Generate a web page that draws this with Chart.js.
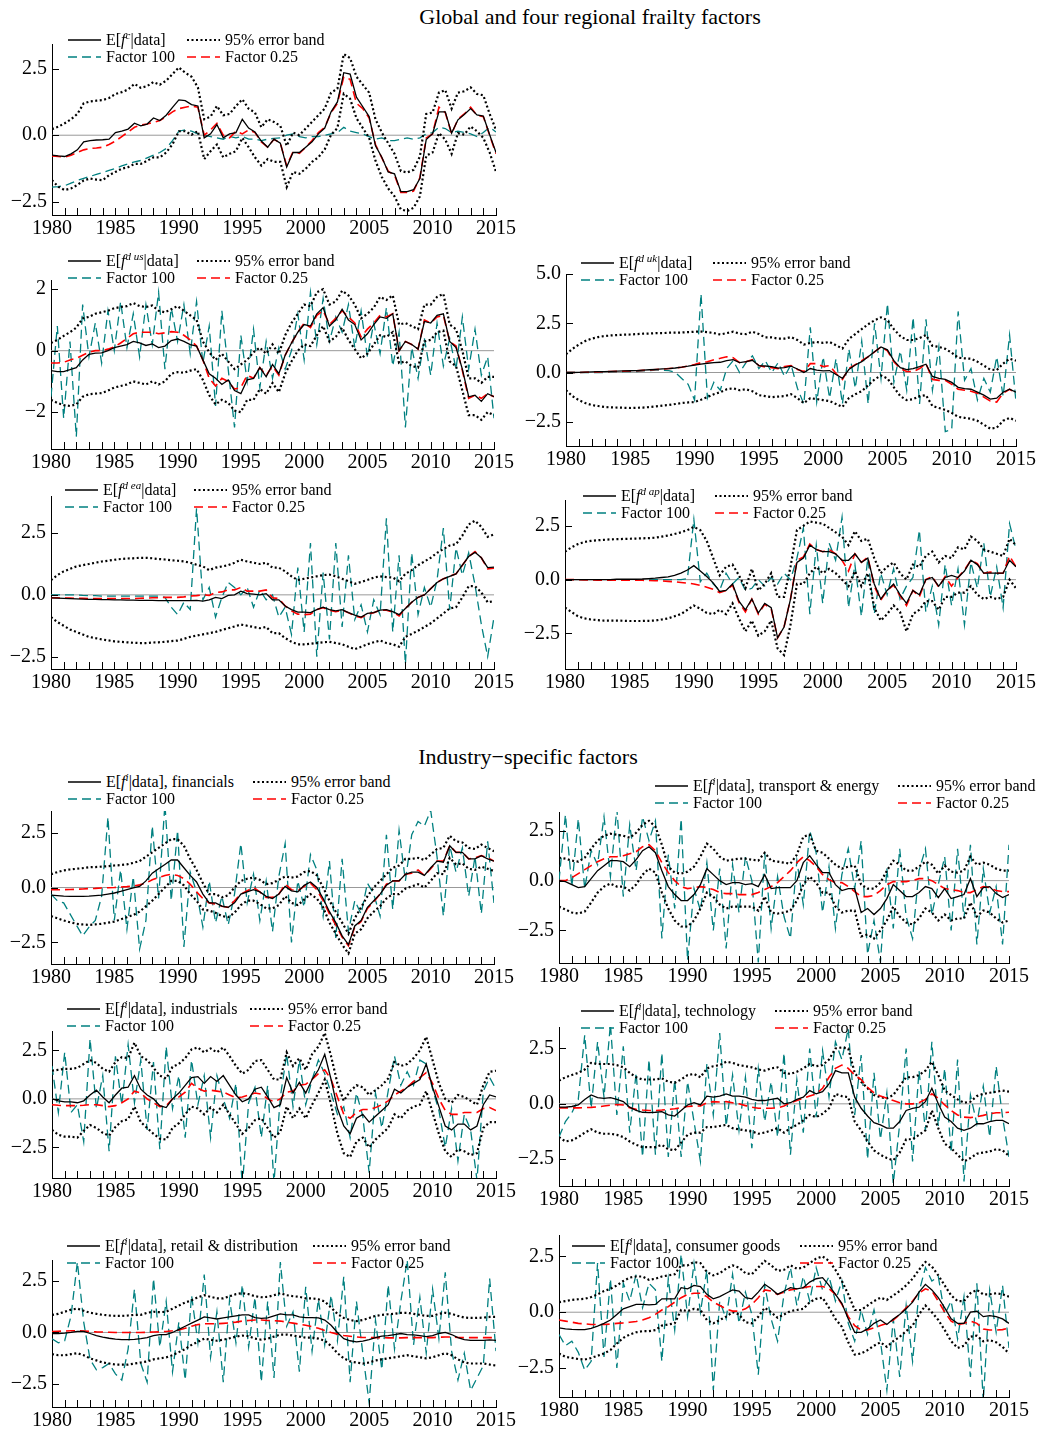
<!DOCTYPE html>
<html>
<head>
<meta charset="utf-8">
<script src="https://cdn.jsdelivr.net/npm/chart.js@4.4.1/dist/chart.umd.min.js"></script>
<style>
  body { margin: 0; background: #fff; }
  #page { position: relative; width: 1043px; height: 1432px; overflow: hidden; font-family: 'Liberation Serif', 'Times New Roman', serif; color: #000; }
  canvas { position: absolute; }
  .title { position: absolute; font-size: 22px; line-height: 26px; white-space: nowrap; transform: translateX(-50%); }
  .leg { position: absolute; font-size: 16px; line-height: 18px; white-space: nowrap; }
  .leg sup { font-size: 11px; line-height: 0; vertical-align: 6px; }
</style>
</head>
<body>
<div id="page">
  <div class="title" style="left:590px; top:4px;">Global and four regional frailty factors</div>
  <div class="title" style="left:528px; top:744px;">Industry−specific factors</div>
</div>
<script>
// 半年ごとの時点
const HALF = [1980,1980.5,1981,1981.5,1982,1982.5,1983,1983.5,1984,1984.5,
  1985,1985.5,1986,1986.5,1987,1987.5,1988,1988.5,1989,1989.5,
  1990,1990.5,1991,1991.5,1992,1992.5,1993,1993.5,1994,1994.5,
  1995,1995.5,1996,1996.5,1997,1997.5,1998,1998.5,1999,1999.5,
  2000,2000.5,2001,2001.5,2002,2002.5,2003,2003.5,2004,2004.5,
  2005,2005.5,2006,2006.5,2007,2007.5,2008,2008.5,2009,2009.5,
  2010,2010.5,2011,2011.5,2012,2012.5,2013,2013.5,2014,2014.5,
  2015];
const X_TICKS = [1980, 1985, 1990, 1995, 2000, 2005, 2010, 2015];
const YEARS = HALF.filter(v => v % 1 === 0);

// global
const glbMean = [-0.75,-0.78,-0.8,-0.7,-0.55,-0.25,-0.2,-0.18,-0.17,-0.15,
  0.1,0.15,0.23,0.45,0.35,0.42,0.65,0.55,0.75,1.05,
  1.33,1.3,1.15,1.1,-0.1,0.05,0.4,-0.1,0.05,0.1,
  0.6,0.27,0.12,-0.22,-0.45,-0.15,-0.3,-1.2,-0.65,-0.65,
  -0.45,-0.25,0.05,0.27,0.88,1.25,2.35,2.3,1.43,1.07,
  0.7,-0.4,-0.83,-1.38,-1.45,-2.12,-2.12,-2.05,-1.63,-0.16,
  0.06,0.88,0.88,0.08,0.58,0.78,1.0,0.76,0.72,0.02,
  -0.65];
const glbF025 = [-0.78,-0.8,-0.82,-0.75,-0.65,-0.55,-0.5,-0.48,-0.45,-0.35,
  -0.22,-0.05,0.12,0.3,0.38,0.42,0.48,0.55,0.7,0.88,
  1.0,1.05,1.1,1.05,0.0,0.2,0.45,0.0,-0.1,0.15,
  0.05,0.2,0.1,-0.25,-0.45,-0.15,-0.3,-1.15,-0.62,-0.68,
  -0.45,-0.2,0.1,0.3,0.85,1.2,2.2,2.1,1.2,1.0,
  0.65,-0.35,-0.85,-1.35,-1.5,-2.15,-2.15,-2.1,-1.6,-0.1,
  0.05,1.05,0.85,0.05,0.6,0.8,1.05,0.75,0.7,0.0,
  -0.7];
const glbUp = [0.23,0.32,0.45,0.6,0.8,1.2,1.27,1.3,1.32,1.4,
  1.55,1.62,1.72,1.93,1.78,1.85,2.0,1.9,2.05,2.3,
  2.55,2.35,2.2,1.8,0.6,0.7,1.1,0.75,0.8,1.1,
  1.35,1.0,0.85,0.3,0.6,0.5,0.35,-0.4,0.1,0.0,
  0.25,0.5,0.75,1.0,1.6,1.75,3.05,2.9,2.2,1.9,
  1.6,0.6,0.1,-0.3,-0.7,-1.35,-1.4,-1.3,-0.8,0.8,
  0.85,1.6,1.7,1.0,1.6,1.65,1.8,1.55,1.5,0.8,
  0.2];
const glbLo = [-1.69,-1.94,-2.06,-2.0,-1.87,-1.7,-1.63,-1.67,-1.69,-1.5,
  -1.38,-1.26,-1.2,-1.08,-1.08,-0.96,-0.83,-0.83,-0.65,-0.34,
  0.15,0.15,0.02,0.15,-0.9,-0.6,-0.35,-0.83,-0.7,-0.6,
  -0.1,-0.45,-0.83,-1.14,-0.9,-1.0,-1.0,-1.95,-1.38,-1.45,
  -1.26,-1.0,-0.83,-0.53,0.02,0.27,1.56,1.37,0.64,0.27,
  -0.1,-0.96,-1.57,-2.0,-2.3,-2.79,-2.85,-2.73,-2.3,-0.77,
  -0.65,0.08,-0.16,-0.7,0.08,0.02,0.33,0.15,-0.1,-0.65,
  -1.38];
const glbF100 = [-1.95,-1.93,-1.9,-1.8,-1.7,-1.62,-1.55,-1.47,-1.4,-1.32,
  -1.25,-1.15,-1.08,-1.0,-0.95,-0.85,-0.75,-0.65,-0.5,-0.2,
  0.15,0.2,0.15,0.05,0.0,-0.05,-0.1,-0.15,-0.05,-0.1,
  -0.05,-0.15,-0.15,-0.2,-0.15,-0.12,-0.1,0.0,0.05,-0.05,
  -0.1,-0.05,-0.05,0.0,0.05,0.1,0.3,0.15,0.1,0.05,
  -0.05,-0.15,-0.1,-0.2,-0.2,-0.15,-0.1,-0.15,-0.1,0.05,
  0.1,0.3,0.25,0.1,0.15,0.1,0.05,-0.05,0.1,0.3,
  0.12];

// us
const usMean = [-0.65,-0.68,-0.68,-0.62,-0.55,-0.3,-0.12,-0.08,-0.07,0.0,
  0.1,0.15,0.2,0.3,0.25,0.17,0.22,0.1,0.15,0.33,
  0.38,0.3,0.2,0.15,-0.3,-0.75,-0.9,-1.1,-0.95,-1.3,
  -1.4,-0.95,-0.9,-0.55,-0.85,-0.45,-0.75,-0.15,0.25,0.6,
  0.85,0.8,1.2,1.4,0.8,1.0,1.35,1.0,0.85,0.35,
  0.55,0.85,1.1,1.05,1.2,0.0,0.3,0.2,0.05,0.95,
  0.9,1.15,1.2,0.3,0.1,-0.6,-1.5,-1.45,-1.65,-1.4,
  -1.5];
const usF025 = [-0.4,-0.4,-0.38,-0.3,-0.25,-0.15,-0.05,0.0,0.0,0.05,
  0.12,0.25,0.4,0.55,0.6,0.6,0.6,0.55,0.58,0.62,
  0.6,0.5,0.35,0.15,-0.3,-0.9,-1.15,-0.9,-1.0,-1.25,
  -1.2,-0.8,-0.9,-0.55,-0.8,-0.5,-0.8,-0.15,0.25,0.6,
  0.9,0.75,1.15,1.3,0.85,1.05,1.3,1.1,0.9,0.45,
  0.7,0.9,1.15,1.1,1.2,0.0,0.3,0.2,0.05,1.0,
  0.9,1.1,1.15,0.3,0.15,-0.65,-1.55,-1.45,-1.55,-1.4,
  -1.5];
const usUp = [0.25,0.35,0.48,0.6,0.75,1.05,1.1,1.2,1.25,1.3,
  1.38,1.42,1.45,1.55,1.45,1.42,1.47,1.3,1.25,1.35,
  1.45,1.3,1.15,1.0,0.3,-0.05,-0.3,-0.1,-0.35,-0.6,
  -0.45,-0.3,-0.05,0.1,-0.1,0.2,-0.1,0.5,0.9,1.2,
  1.5,1.45,1.9,2.0,1.5,1.6,1.95,1.8,1.5,1.05,
  1.2,1.4,1.75,1.65,1.8,0.85,0.9,0.8,0.7,1.5,
  1.5,1.75,1.85,0.85,0.7,0.0,-0.9,-0.9,-1.05,-0.85,
  -0.85];
const usLo = [-1.6,-1.7,-1.77,-1.8,-1.75,-1.5,-1.42,-1.4,-1.38,-1.3,
  -1.2,-1.15,-1.1,-1.0,-1.05,-1.1,-1.0,-1.1,-1.0,-0.75,
  -0.7,-0.72,-0.65,-0.6,-0.95,-1.45,-1.75,-1.6,-1.7,-1.95,
  -2.0,-1.6,-1.6,-1.25,-1.4,-1.05,-1.35,-0.75,-0.35,0.0,
  0.2,0.15,0.5,0.8,0.3,0.45,0.75,0.35,0.05,-0.25,
  -0.1,0.2,0.5,0.45,0.6,-0.4,-0.35,-0.5,-0.55,0.3,
  0.35,0.6,0.65,-0.35,-0.5,-1.3,-2.1,-2.1,-2.25,-2.0,
  -2.1];
const usF100 = [-1.5,0.8,-2.2,0.3,-2.8,1.5,-0.2,0.9,-0.4,1.3,
  0.0,1.6,0.1,1.2,-0.2,1.5,0.2,1.9,-0.6,1.4,
  0.3,1.5,-0.1,1.6,-0.4,0.8,-1.8,1.3,-0.6,-2.5,
  0.5,-1.0,0.7,-1.2,0.3,-0.9,0.1,-0.6,0.0,1.2,
  -0.3,1.9,0.2,1.7,0.3,1.1,0.6,1.5,0.1,1.3,
  -0.2,0.9,-0.1,1.4,-0.5,0.6,-2.5,0.1,-0.9,0.4,
  -0.8,0.9,-0.5,0.4,-0.6,1.1,-0.6,0.7,-0.8,-0.2,
  -2.2];

// uk
const ukMean = [0.0,0.0,0.01,0.02,0.03,0.04,0.05,0.06,0.07,0.08,
  0.09,0.1,0.12,0.14,0.16,0.18,0.2,0.23,0.27,0.32,
  0.38,0.43,0.47,0.5,0.52,0.6,0.65,0.5,0.55,0.62,
  0.35,0.33,0.3,0.22,0.25,0.32,0.18,0.0,0.2,0.12,
  0.08,0.1,-0.1,-0.3,0.15,0.38,0.55,0.8,1.05,1.3,
  1.15,0.6,0.25,0.15,0.2,0.3,0.42,-0.2,-0.3,-0.35,
  -0.5,-0.75,-0.82,-0.85,-1.0,-1.15,-1.35,-1.3,-1.0,-0.85,
  -1.0];
const ukF025 = [0.0,0.0,0.0,0.01,0.02,0.03,0.04,0.05,0.06,0.07,
  0.08,0.09,0.11,0.13,0.15,0.17,0.2,0.23,0.27,0.33,
  0.4,0.5,0.55,0.65,0.72,0.8,0.75,0.5,0.55,0.65,
  0.35,0.28,0.25,0.2,0.3,0.35,0.15,0.05,0.45,0.45,
  0.3,0.35,-0.05,-0.35,0.2,0.4,0.6,0.8,1.05,1.3,
  1.1,0.55,0.2,0.05,0.05,0.2,0.45,-0.35,-0.4,-0.4,
  -0.6,-0.85,-0.9,-0.95,-1.05,-1.25,-1.45,-1.5,-1.05,-0.85,
  -1.05];
const ukUp = [0.93,1.2,1.42,1.6,1.72,1.8,1.85,1.88,1.9,1.92,
  1.93,1.95,1.97,1.98,2.0,2.0,2.02,2.02,2.03,2.05,
  2.07,2.08,2.05,2.0,1.93,2.0,2.07,1.97,1.95,2.07,
  1.95,1.78,1.78,1.72,1.72,1.8,1.65,1.42,1.5,1.55,
  1.5,1.55,1.38,1.22,1.7,1.95,2.2,2.45,2.65,2.8,
  2.65,2.2,1.85,1.65,1.65,1.75,1.9,1.35,1.3,1.2,
  1.0,0.75,0.72,0.7,0.55,0.35,0.15,0.12,0.45,0.7,
  0.6];
const ukLo = [-0.9,-1.2,-1.4,-1.55,-1.65,-1.7,-1.75,-1.77,-1.78,-1.79,
  -1.8,-1.79,-1.78,-1.75,-1.72,-1.68,-1.65,-1.6,-1.55,-1.52,
  -1.5,-1.38,-1.25,-1.1,-1.0,-0.85,-0.8,-0.9,-0.85,-0.95,
  -1.15,-1.2,-1.25,-1.22,-1.2,-1.1,-1.3,-1.55,-1.3,-1.35,
  -1.4,-1.45,-1.6,-1.75,-1.3,-1.1,-0.95,-0.65,-0.35,-0.15,
  -0.3,-0.75,-1.2,-1.4,-1.35,-1.2,-1.15,-1.7,-1.8,-1.9,
  -2.05,-2.25,-2.3,-2.35,-2.45,-2.65,-2.85,-2.8,-2.45,-2.3,
  -2.45];
const ukF100 = [0.0,0.0,0.0,0.0,0.0,0.0,0.0,0.02,0.03,0.04,
  0.05,0.05,0.08,0.1,0.12,0.12,0.1,0.0,-0.3,-0.6,
  -1.4,4.0,-1.3,-0.5,-0.9,0.2,0.6,0.0,0.5,0.85,
  0.2,0.6,0.0,0.5,-0.2,0.4,-0.8,-1.6,2.3,-1.5,
  0.8,-1.3,0.7,-1.6,1.2,-0.8,1.6,-1.6,2.5,-0.3,
  3.5,-0.5,1.1,-0.9,2.8,-1.6,2.7,-0.9,1.3,-3.0,
  -2.9,3.1,-0.4,0.2,-1.4,-0.3,-1.0,0.8,-1.2,1.9,
  -1.5];

// euro area
const eaMean = [-0.12,-0.13,-0.14,-0.15,-0.16,-0.17,-0.18,-0.18,-0.19,-0.19,
  -0.2,-0.2,-0.21,-0.21,-0.22,-0.22,-0.22,-0.23,-0.23,-0.23,
  -0.23,-0.23,-0.23,-0.22,-0.25,-0.2,-0.1,-0.15,-0.02,0.0,
  0.15,0.05,0.03,0.0,0.05,-0.2,-0.2,-0.45,-0.6,-0.7,
  -0.7,-0.72,-0.6,-0.5,-0.6,-0.65,-0.6,-0.72,-0.82,-0.9,
  -0.75,-0.72,-0.62,-0.6,-0.68,-0.8,-0.55,-0.3,-0.1,0.0,
  0.25,0.5,0.65,0.75,0.85,1.2,1.55,1.72,1.5,1.1,
  1.12];
const eaF025 = [-0.12,-0.12,-0.13,-0.13,-0.14,-0.14,-0.15,-0.15,-0.15,-0.15,
  -0.15,-0.15,-0.15,-0.15,-0.14,-0.13,-0.12,-0.12,-0.1,-0.1,
  -0.1,-0.08,-0.05,-0.03,0.0,-0.02,0.1,0.12,0.2,0.2,
  0.3,0.15,0.15,0.15,0.2,-0.12,-0.15,-0.45,-0.65,-0.78,
  -0.8,-0.78,-0.6,-0.52,-0.62,-0.68,-0.62,-0.72,-0.85,-0.92,
  -0.78,-0.72,-0.62,-0.62,-0.7,-0.85,-0.55,-0.3,-0.1,0.0,
  0.25,0.5,0.65,0.75,0.85,1.2,1.55,1.75,1.5,1.05,
  1.08];
const eaUp = [0.6,0.8,0.95,1.05,1.15,1.2,1.25,1.3,1.35,1.38,
  1.42,1.45,1.47,1.48,1.5,1.5,1.48,1.45,1.43,1.4,
  1.38,1.35,1.3,1.22,1.15,1.0,1.1,1.15,1.2,1.3,
  1.42,1.35,1.3,1.25,1.3,1.1,1.1,0.95,0.75,0.6,
  0.65,0.7,0.75,0.8,0.82,0.75,0.65,0.55,0.45,0.52,
  0.6,0.7,0.75,0.72,0.7,0.55,0.85,1.0,1.2,1.35,
  1.5,1.7,1.85,2.0,2.05,2.4,2.85,3.0,2.75,2.35,
  2.45];
const eaLo = [-0.9,-1.1,-1.25,-1.4,-1.5,-1.6,-1.7,-1.75,-1.8,-1.84,
  -1.88,-1.9,-1.92,-1.94,-1.95,-1.95,-1.93,-1.92,-1.9,-1.87,
  -1.85,-1.78,-1.7,-1.65,-1.6,-1.55,-1.5,-1.42,-1.35,-1.28,
  -1.2,-1.25,-1.3,-1.35,-1.3,-1.55,-1.55,-1.75,-1.9,-2.0,
  -2.0,-1.98,-1.95,-1.92,-1.9,-1.95,-2.0,-2.1,-2.2,-2.1,
  -2.0,-1.92,-1.85,-1.95,-2.0,-2.1,-1.7,-1.58,-1.45,-1.3,
  -1.15,-0.95,-0.75,-0.55,-0.5,-0.1,0.35,0.35,0.1,-0.3,
  -0.25];
const eaF100 = [0.0,0.0,0.0,0.0,0.0,-0.02,-0.03,-0.03,-0.05,-0.05,
  -0.05,-0.05,-0.05,-0.05,-0.05,-0.05,-0.05,-0.05,-0.1,-0.5,
  -0.8,-0.3,-0.6,3.5,-0.2,0.3,-0.9,-0.1,0.5,0.3,
  0.0,0.3,-0.5,0.2,-0.2,0.0,-0.9,-0.5,-1.6,1.1,
  -1.5,2.1,-2.5,0.9,-1.8,2.1,-1.3,1.6,-1.0,-0.4,
  -1.5,-0.2,-0.8,3.1,-1.5,1.6,-2.8,1.7,-0.8,0.3,
  -0.5,0.6,2.7,-0.6,1.9,0.8,1.7,0.4,-1.2,-2.5,
  -0.9];

// asia pacific
const apMean = [0.0,0.0,0.0,0.0,0.0,0.0,0.0,0.0,0.02,0.02,
  0.02,0.02,0.03,0.05,0.07,0.1,0.13,0.2,0.3,0.45,
  0.65,0.4,0.15,-0.15,-0.55,-0.5,-0.2,-1.0,-1.4,-0.9,
  -1.55,-1.1,-1.3,-2.7,-2.2,-0.9,0.8,1.0,1.6,1.4,
  1.3,1.3,1.2,0.9,0.9,1.2,0.8,1.0,-0.2,-0.9,
  -0.5,-0.2,-0.7,-1.1,-0.5,-0.7,0.0,0.1,-0.3,0.1,
  0.2,0.1,0.4,0.9,0.7,0.3,0.3,0.3,0.3,0.9,
  0.6];
const apF025 = [0.0,0.0,0.0,-0.01,-0.01,-0.02,-0.02,-0.02,-0.02,-0.02,
  -0.02,-0.03,-0.03,-0.04,-0.05,-0.06,-0.08,-0.1,-0.13,-0.16,
  -0.2,-0.27,-0.35,-0.45,-0.6,-0.5,-0.25,-1.05,-1.5,-0.9,
  -1.6,-1.15,-1.35,-2.7,-2.2,-0.9,0.9,1.05,1.65,1.4,
  1.3,1.4,1.2,0.9,0.4,1.2,0.8,1.05,-0.3,-0.95,
  -0.5,-0.25,-0.75,-1.2,-0.5,-0.8,0.0,0.15,-0.35,0.15,
  -0.3,0.1,0.45,0.9,0.75,0.3,0.35,0.3,0.3,1.1,
  0.6];
const apUp = [1.3,1.5,1.65,1.75,1.8,1.83,1.85,1.87,1.88,1.89,
  1.9,1.91,1.92,1.93,1.95,2.0,2.05,2.12,2.2,2.3,
  2.45,2.3,1.8,1.0,0.2,0.6,0.7,0.2,-0.4,0.5,
  -0.5,-0.2,0.3,-0.8,-0.8,0.6,2.3,2.5,2.7,2.65,
  2.6,2.4,2.2,2.0,1.6,2.25,1.8,1.9,1.0,0.3,
  0.6,0.8,0.3,0.0,0.7,0.6,1.1,1.3,0.8,1.1,
  1.0,1.5,1.4,2.0,1.8,1.4,1.3,1.2,1.1,1.9,
  1.6];
const apLo = [-1.3,-1.5,-1.7,-1.8,-1.85,-1.88,-1.9,-1.9,-1.9,-1.91,
  -1.92,-1.92,-1.92,-1.91,-1.9,-1.85,-1.8,-1.7,-1.6,-1.4,
  -1.2,-1.35,-1.55,-1.6,-1.4,-1.6,-1.1,-1.8,-2.4,-1.9,
  -2.6,-2.4,-1.9,-3.2,-3.5,-2.1,-0.2,-0.2,0.3,0.6,
  0.3,0.5,0.3,0.0,-0.3,0.4,-0.3,0.3,-1.3,-1.9,
  -1.6,-1.2,-1.5,-2.4,-1.6,-1.4,-1.0,-1.0,-1.4,-0.8,
  -0.8,-0.6,-0.6,-0.3,-0.7,-0.9,-0.8,-0.9,-0.8,0.0,
  -0.4];
const apF100 = [0.0,0.0,0.0,0.0,0.0,0.0,0.0,0.0,0.0,0.0,
  0.0,0.0,0.0,0.0,0.0,0.0,0.0,0.0,0.0,0.05,
  2.8,-0.1,0.3,-0.2,-0.5,0.3,-0.2,0.1,-0.5,-0.4,
  0.0,-0.3,0.1,-0.2,0.3,0.0,1.0,2.4,-1.6,1.6,
  -1.1,1.7,0.9,2.9,-1.3,0.7,-1.7,1.0,-1.6,0.3,
  -0.7,0.5,-0.9,-0.3,0.1,2.3,-1.5,-0.3,-2.1,0.7,
  -1.2,0.5,-2.1,0.8,-0.4,1.7,-0.8,0.6,-1.3,2.6,
  1.4];

// financials
const finMean = [-0.35,-0.37,-0.39,-0.4,-0.4,-0.4,-0.39,-0.37,-0.35,-0.3,
  -0.25,-0.18,-0.1,-0.02,0.05,0.3,0.65,0.85,1.05,1.25,
  1.25,0.9,0.55,0.25,-0.3,-0.7,-0.7,-0.85,-0.9,-0.7,
  -0.3,-0.2,-0.1,-0.2,-0.4,-0.5,-0.3,0.05,-0.15,-0.2,
  0.1,0.25,0.0,-0.5,-1.1,-1.6,-2.2,-2.6,-1.75,-1.5,
  -0.9,-0.6,-0.3,0.1,0.3,0.3,0.6,0.7,0.7,0.55,
  0.9,1.2,1.15,1.9,1.6,1.6,1.3,1.3,1.45,1.3,
  1.2];
const finF025 = [-0.1,-0.1,-0.1,-0.09,-0.08,-0.07,-0.05,-0.04,-0.02,-0.01,
  0.0,0.02,0.04,0.07,0.12,0.2,0.35,0.45,0.55,0.6,
  0.55,0.4,0.15,-0.2,-0.5,-0.7,-0.75,-0.85,-0.9,-0.6,
  -0.3,-0.15,0.0,-0.2,-0.45,-0.45,-0.3,0.15,-0.1,-0.15,
  0.05,0.2,-0.1,-0.6,-1.2,-1.7,-2.25,-2.65,-1.8,-1.55,
  -0.95,-0.65,-0.3,0.15,0.3,0.3,0.6,0.65,0.8,0.55,
  0.85,1.2,1.2,1.9,1.6,1.6,1.3,1.35,1.45,1.35,
  1.2];
const finUp = [0.6,0.7,0.78,0.82,0.85,0.88,0.92,0.93,0.95,0.97,
  1.0,1.02,1.05,1.12,1.2,1.4,1.6,1.8,2.0,2.2,
  2.2,1.9,1.3,0.8,0.2,-0.3,-0.3,-0.45,-0.35,0.0,
  0.3,0.4,0.45,0.35,0.15,0.2,0.35,0.5,0.45,0.5,
  0.7,0.75,0.55,0.0,-0.6,-1.1,-1.6,-2.1,-1.4,-0.9,
  -0.4,0.0,0.3,0.6,0.9,1.0,1.3,1.3,1.35,1.25,
  1.5,1.75,1.8,2.35,2.1,2.05,1.8,1.75,1.95,1.8,
  1.65];
const finLo = [-1.3,-1.4,-1.5,-1.58,-1.65,-1.68,-1.7,-1.68,-1.65,-1.6,
  -1.55,-1.45,-1.35,-1.25,-1.1,-0.85,-0.6,-0.3,0.0,0.3,
  0.3,0.1,-0.3,-0.6,-1.0,-1.05,-1.15,-1.3,-1.35,-1.15,
  -0.8,-0.6,-0.6,-0.75,-0.95,-0.95,-0.8,-0.4,-0.7,-0.8,
  -0.55,-0.3,-0.5,-0.9,-1.6,-2.1,-2.6,-3.0,-2.1,-1.9,
  -1.4,-1.1,-0.85,-0.5,-0.3,-0.3,-0.05,0.05,0.15,0.0,
  0.3,0.65,0.6,1.35,1.05,1.1,0.85,0.8,0.95,0.85,
  0.75];
const finF100 = [-0.3,-0.6,-0.7,-1.2,-1.7,-2.2,-1.8,-1.5,-0.4,3.2,
  -1.5,0.8,-1.9,0.5,-2.8,-1.5,2.8,-0.5,3.8,-0.6,
  2.6,-2.7,0.7,-0.2,-1.8,0.3,-1.6,-0.4,-1.7,-0.3,
  2.0,-0.7,0.6,-1.5,0.3,-2.0,0.5,2.0,-2.5,0.3,
  -0.9,1.5,0.8,-1.3,1.2,-2.3,1.3,-2.0,-0.6,-1.2,
  0.2,-0.3,-1.3,2.4,-1.0,2.6,0.3,2.4,3.0,2.8,
  3.5,1.4,-1.3,1.9,0.7,1.8,-0.4,1.4,-1.2,2.1,
  -0.7];

// transport & energy
const trnMean = [0.0,-0.05,-0.2,-0.35,-0.3,0.1,0.5,0.75,1.0,1.0,
  0.95,0.7,1.05,1.5,1.7,1.4,0.5,-0.3,-0.7,-1.0,
  -1.0,-0.7,-0.2,0.6,0.3,0.0,-0.2,-0.1,-0.1,-0.2,
  -0.15,-0.3,0.3,-0.4,-0.35,-0.35,-0.35,0.0,0.9,1.25,
  0.8,0.4,0.4,-0.2,-0.5,-0.4,-0.4,-1.6,-1.4,-1.7,
  -1.4,-0.9,-0.2,-0.5,-0.8,-0.8,-0.6,-0.3,-0.4,-0.85,
  -0.4,-0.9,-0.8,-0.7,0.1,-0.8,-0.35,-0.3,-0.65,-0.85,
  -0.7];
const trnF025 = [0.0,0.0,0.15,0.35,0.55,0.75,0.95,1.1,1.2,1.2,
  1.25,1.35,1.45,1.7,1.8,1.5,0.9,0.4,0.0,-0.3,
  -0.4,-0.35,-0.3,-0.35,-0.45,-0.6,-0.65,-0.65,-0.7,-0.7,
  -0.7,-0.6,-0.45,-0.3,-0.1,0.2,0.5,0.9,1.2,1.0,
  0.7,0.3,0.05,-0.1,-0.1,-0.3,-0.55,-0.8,-0.8,-0.75,
  -0.5,-0.2,-0.05,-0.05,-0.05,0.0,0.1,0.1,0.0,-0.2,
  -0.4,-0.45,-0.5,-0.6,-0.6,-0.45,-0.3,-0.35,-0.5,-0.55,
  -0.55];
const trnUp = [1.15,1.1,1.0,0.95,1.15,1.6,2.0,2.25,2.35,2.3,
  2.25,2.15,2.4,2.8,3.0,2.7,1.8,0.7,0.4,0.35,
  0.45,0.7,1.2,1.85,1.6,1.2,1.0,1.05,1.1,1.1,
  1.05,1.0,1.4,1.0,0.95,0.9,0.85,1.3,2.2,2.3,
  1.5,1.4,1.1,0.8,0.6,0.7,0.75,-0.2,-0.4,-0.4,
  -0.1,0.5,1.0,0.8,0.5,0.5,0.7,0.95,0.8,0.35,
  0.75,0.45,0.4,0.5,1.2,0.8,0.9,0.8,0.6,0.5,
  0.5];
const trnLo = [-1.3,-1.45,-1.6,-1.65,-1.55,-1.1,-0.6,-0.3,-0.15,-0.3,
  -0.3,-0.5,-0.2,0.3,0.6,0.4,-0.6,-1.4,-2.0,-2.3,
  -2.3,-2.0,-1.4,-0.6,-0.8,-1.2,-1.4,-1.3,-1.3,-1.3,
  -1.3,-1.5,-0.8,-1.6,-1.65,-1.6,-1.5,-1.0,-0.2,0.2,
  -0.1,-0.6,-0.6,-1.3,-1.6,-1.5,-1.5,-2.8,-2.7,-2.9,
  -2.5,-2.0,-1.3,-1.8,-2.1,-2.2,-1.9,-1.4,-1.6,-2.0,
  -1.7,-2.0,-1.9,-1.9,-1.1,-1.8,-1.5,-1.6,-1.9,-2.1,
  -2.0];
const trnF100 = [0.0,3.3,-0.3,3.1,-0.4,1.5,0.8,3.2,0.2,3.6,
  -0.8,2.8,0.5,3.2,2.0,3.0,-2.9,1.3,-1.4,3.1,
  -4.0,-0.4,-1.5,0.9,-2.5,0.6,-3.4,0.8,-1.6,1.2,
  0.0,-4.1,1.4,-2.4,0.2,-1.8,-2.9,1.0,-1.2,2.5,
  1.4,-1.6,0.7,-2.4,0.3,1.6,-0.4,2.0,-3.7,-2.0,
  -4.1,0.6,-2.4,1.6,-1.8,-2.9,0.5,1.6,-1.7,-0.2,
  1.2,-2.5,1.6,-1.9,1.8,-3.2,0.6,-1.6,-0.3,-3.2,
  1.8];

// industrials
const indMean = [0.0,-0.1,-0.15,-0.15,-0.2,-0.1,0.2,0.45,0.1,-0.2,
  0.2,0.55,0.6,1.2,0.5,0.2,0.0,-0.35,-0.45,0.0,
  0.3,0.7,1.1,1.15,0.8,1.15,0.9,1.2,0.7,0.2,
  -0.15,0.0,0.5,0.6,0.1,-0.45,-0.3,1.1,0.3,0.85,
  0.3,1.0,1.5,2.3,1.0,-0.5,-1.4,-1.8,-1.0,-0.8,
  -1.2,-0.9,-0.6,-0.3,0.5,0.3,0.6,0.8,1.0,1.8,
  0.6,-0.4,-1.4,-1.6,-1.3,-1.3,-1.6,-1.4,-0.3,0.2,
  0.1];
const indF025 = [-0.3,-0.33,-0.35,-0.35,-0.35,-0.33,-0.3,-0.3,-0.35,-0.4,
  -0.35,-0.2,0.0,0.4,0.3,0.0,-0.2,-0.4,-0.35,0.0,
  0.1,0.35,0.8,0.55,0.4,0.45,0.4,0.35,0.2,0.05,
  0.1,0.2,0.3,0.25,0.0,-0.15,0.0,0.35,0.4,0.7,
  0.75,1.0,1.3,1.5,1.0,0.1,-0.8,-1.0,-0.7,-0.55,
  -0.55,-0.45,-0.3,-0.1,0.2,0.4,0.6,0.9,1.1,1.35,
  0.8,0.0,-0.6,-0.8,-0.8,-0.7,-0.7,-0.7,-0.5,-0.45,
  -0.6];
const indUp = [1.45,1.5,1.55,1.55,1.6,1.8,2.0,1.85,1.55,1.4,
  1.9,2.15,2.1,2.9,2.2,2.0,1.6,1.2,1.05,1.65,
  1.8,2.1,2.55,2.65,2.4,2.6,2.4,2.65,2.2,1.7,
  1.3,1.5,1.95,2.0,1.5,1.0,1.0,2.4,1.7,2.1,
  1.5,2.3,2.7,3.4,2.2,0.8,-0.1,0.4,0.7,0.6,
  0.2,0.45,0.7,1.05,1.9,1.7,1.8,2.1,2.5,3.2,
  2.0,0.8,0.0,-0.2,0.2,0.1,-0.1,-0.3,0.7,1.4,
  1.45];
const indLo = [-1.6,-1.85,-1.95,-1.95,-2.0,-1.65,-1.35,-1.5,-1.75,-1.9,
  -1.45,-1.15,-1.05,-0.4,-1.2,-1.5,-1.8,-2.05,-2.1,-1.5,
  -1.25,-0.8,-0.4,-0.5,-0.8,-0.45,-0.7,-0.3,-0.8,-1.3,
  -1.8,-1.5,-1.1,-1.0,-1.5,-2.0,-1.7,-0.4,-1.0,-0.5,
  -1.0,-0.3,0.3,1.0,-0.3,-1.8,-2.8,-3.0,-2.2,-2.0,
  -2.5,-2.1,-1.8,-1.5,-0.8,-1.0,-0.6,-0.4,-0.3,0.4,
  -0.7,-1.8,-2.7,-3.0,-2.6,-2.7,-2.9,-2.8,-1.5,-1.2,
  -1.2];
const indF100 = [1.7,-0.7,2.4,-0.7,-0.3,-2.2,3.1,-0.5,1.2,-2.7,
  2.2,-0.3,2.8,-0.2,2.0,-1.6,1.9,-2.6,2.7,-0.5,
  1.2,-2.0,2.0,-0.3,1.2,-2.0,1.2,0.0,-1.0,0.8,
  -4.5,-0.2,0.6,-2.0,0.7,-4.3,0.1,2.3,-0.4,2.0,
  -0.3,1.0,2.0,1.3,0.3,-0.8,-0.4,-2.0,0.3,-0.9,
  -3.8,0.3,-1.5,0.4,2.2,0.7,1.4,0.7,2.0,1.8,
  0.5,-0.6,-2.5,-0.5,-3.2,-0.8,-1.6,-4.2,0.4,1.1,
  0.5];

// technology
const tecMean = [-0.15,-0.15,-0.12,-0.05,0.2,0.4,0.28,0.25,0.28,0.2,
  0.1,-0.15,-0.3,-0.38,-0.4,-0.38,-0.35,-0.5,-0.55,-0.3,
  -0.05,0.05,-0.05,0.35,0.3,0.35,0.45,0.35,0.35,0.3,
  0.2,0.15,0.15,0.2,0.25,0.0,0.05,0.2,0.3,0.6,
  0.45,0.55,0.9,1.5,1.4,1.4,0.3,-0.2,-0.55,-0.85,
  -0.95,-1.1,-1.1,-0.8,-0.3,-0.2,-0.15,0.1,0.7,0.0,
  -0.6,-0.8,-1.1,-1.2,-1.1,-0.9,-0.9,-0.8,-0.75,-0.75,
  -0.9];
const tecF025 = [-0.18,-0.18,-0.18,-0.18,-0.17,-0.16,-0.14,-0.1,-0.06,-0.03,
  -0.05,-0.18,-0.25,-0.28,-0.3,-0.3,-0.28,-0.25,-0.22,-0.18,
  -0.12,-0.1,-0.1,0.05,0.1,0.08,0.1,0.05,0.0,-0.08,
  -0.15,-0.2,-0.2,-0.2,-0.18,-0.1,0.05,0.15,0.25,0.35,
  0.45,0.7,1.2,1.6,1.75,1.6,1.3,1.1,0.75,0.5,
  0.35,0.25,0.15,0.05,0.0,0.0,0.05,0.2,0.45,0.25,
  -0.05,-0.3,-0.5,-0.6,-0.62,-0.58,-0.52,-0.45,-0.4,-0.4,
  -0.38];
const tecUp = [1.05,1.2,1.3,1.4,1.55,1.85,1.8,1.8,1.8,1.75,
  1.65,1.4,1.2,1.1,1.1,1.1,1.15,1.0,0.95,1.1,
  1.3,1.35,1.2,1.6,1.7,1.75,1.9,1.85,1.75,1.7,
  1.65,1.55,1.5,1.6,1.65,1.4,1.35,1.45,1.6,1.8,
  1.7,1.75,2.0,2.5,2.55,2.5,1.4,1.0,0.7,0.4,
  0.3,0.25,0.4,0.8,1.2,1.2,1.3,1.5,1.9,1.3,
  0.6,0.4,0.2,0.05,0.1,0.35,0.45,0.5,0.55,0.6,
  0.55];
const tecLo = [-1.5,-1.7,-1.65,-1.5,-1.3,-1.15,-1.3,-1.35,-1.35,-1.4,
  -1.5,-1.7,-1.85,-1.95,-1.95,-1.95,-1.85,-2.05,-2.1,-1.75,
  -1.4,-1.3,-1.3,-1.05,-1.05,-1.0,-0.95,-1.1,-1.15,-1.2,
  -1.25,-1.35,-1.3,-1.2,-1.1,-1.3,-1.1,-0.95,-0.75,-0.5,
  -0.6,-0.45,-0.2,0.45,0.35,0.3,-0.8,-1.2,-1.7,-2.1,
  -2.3,-2.45,-2.55,-2.2,-1.6,-1.6,-1.4,-1.2,-0.3,-1.1,
  -1.8,-2.0,-2.3,-2.6,-2.45,-2.25,-2.2,-2.15,-2.05,-2.1,
  -2.35];
const tecF100 = [-1.5,-0.8,-0.4,0.2,3.1,-0.2,2.8,0.3,3.6,-0.5,
  2.6,-1.3,1.4,-2.4,2.0,-2.3,2.3,-2.4,1.1,-2.4,
  1.0,-0.8,-2.6,1.8,-0.5,3.2,-1.0,1.3,-1.2,1.2,
  -2.0,1.6,-0.8,1.0,-1.5,2.3,-2.3,1.1,-1.3,2.5,
  -0.6,2.4,0.3,2.8,2.0,3.4,-0.5,2.2,-2.5,1.4,
  -1.6,0.5,-3.6,-0.9,2.5,-2.6,1.5,-1.2,2.8,-1.0,
  1.6,-2.2,2.0,-3.5,0.4,-0.9,0.8,-1.5,1.7,-0.6,
  -2.4];

// retail & distribution
const retMean = [-0.05,-0.05,-0.03,0.0,0.05,0.05,-0.05,-0.15,-0.22,-0.28,
  -0.32,-0.35,-0.35,-0.33,-0.3,-0.25,-0.15,-0.1,-0.1,0.0,
  0.15,0.3,0.45,0.6,0.75,0.7,0.65,0.7,0.75,0.8,
  0.85,0.85,0.72,0.68,0.7,0.8,0.9,0.85,0.85,0.75,
  0.72,0.72,0.7,0.6,0.35,0.0,-0.3,-0.4,-0.45,-0.42,
  -0.35,-0.25,-0.18,-0.15,-0.1,-0.05,-0.1,-0.12,-0.15,-0.2,
  -0.15,-0.05,0.0,-0.1,-0.25,-0.35,-0.38,-0.38,-0.38,-0.36,
  -0.38];
const retF025 = [0.05,0.06,0.07,0.08,0.08,0.07,0.05,0.03,0.02,0.01,
  0.0,0.0,0.0,0.0,0.0,0.01,0.02,0.03,0.05,0.08,
  0.12,0.2,0.3,0.38,0.42,0.42,0.42,0.44,0.46,0.5,
  0.55,0.58,0.6,0.6,0.58,0.57,0.55,0.5,0.45,0.4,
  0.35,0.28,0.2,0.1,0.0,-0.08,-0.15,-0.18,-0.22,-0.24,
  -0.25,-0.25,-0.25,-0.26,-0.26,-0.26,-0.25,-0.25,-0.25,-0.25,
  -0.25,-0.23,-0.22,-0.22,-0.24,-0.25,-0.25,-0.25,-0.25,-0.25,
  -0.25];
const retUp = [0.85,0.9,1.0,1.1,1.15,1.05,0.95,0.9,0.85,0.82,
  0.8,0.8,0.82,0.85,0.85,0.95,1.0,0.98,1.0,1.15,
  1.3,1.45,1.55,1.7,1.8,1.72,1.65,1.65,1.75,1.85,
  1.9,1.85,1.75,1.7,1.72,1.8,1.9,1.8,1.75,1.72,
  1.65,1.65,1.6,1.5,1.2,0.9,0.7,0.6,0.55,0.6,
  0.7,0.8,0.85,0.88,0.9,0.95,0.95,0.9,0.85,0.8,
  0.8,0.9,0.95,0.9,0.8,0.72,0.7,0.7,0.72,0.75,
  0.75];
const retLo = [-1.05,-1.1,-1.1,-1.05,-1.0,-1.1,-1.25,-1.35,-1.45,-1.5,
  -1.55,-1.55,-1.55,-1.5,-1.45,-1.4,-1.3,-1.25,-1.2,-1.1,
  -0.95,-0.8,-0.6,-0.45,-0.3,-0.35,-0.4,-0.35,-0.28,-0.2,
  -0.15,-0.18,-0.3,-0.35,-0.3,-0.2,-0.1,-0.1,-0.15,-0.2,
  -0.25,-0.25,-0.3,-0.4,-0.65,-1.0,-1.25,-1.4,-1.45,-1.5,
  -1.45,-1.35,-1.3,-1.25,-1.2,-1.15,-1.1,-1.15,-1.2,-1.25,
  -1.2,-1.1,-1.0,-1.1,-1.3,-1.45,-1.5,-1.5,-1.5,-1.55,
  -1.6];
const retF100 = [-0.3,-0.5,-0.4,0.8,3.4,0.5,-1.3,-1.8,-1.7,-1.5,
  -2.0,-2.3,-0.8,2.1,-1.5,-2.4,2.6,-0.7,1.5,-1.9,
  0.5,-2.3,1.8,-0.5,2.8,-1.2,1.0,-2.4,1.6,-0.5,
  2.3,-0.7,1.7,-2.4,1.5,-2.2,3.4,0.3,1.0,-1.9,
  2.2,-0.9,1.6,-0.6,1.8,-0.4,2.7,-2.4,1.5,-1.0,
  -3.4,0.6,-1.8,2.3,-0.8,1.5,3.5,-0.6,1.7,-1.0,
  2.1,-0.3,2.9,-0.9,-2.3,-1.0,-2.8,-2.2,-1.6,2.6,
  -0.9];

// consumer goods
const conMean = [-0.7,-0.75,-0.77,-0.78,-0.78,-0.72,-0.62,-0.5,-0.35,-0.1,
  0.15,0.25,0.35,0.35,0.33,0.35,0.6,0.6,0.6,1.1,
  1.05,1.2,1.15,0.8,0.6,0.7,0.85,1.0,0.95,0.65,
  0.6,0.9,1.25,1.05,0.8,0.95,1.1,1.05,1.1,1.35,
  1.5,1.55,1.2,0.8,0.4,-0.3,-0.9,-0.9,-0.75,-0.5,
  -0.35,-0.55,-0.3,-0.1,0.15,0.45,0.9,1.25,1.0,0.65,
  0.2,-0.3,-0.5,-0.5,0.0,0.05,-0.2,-0.15,-0.2,-0.3,
  -0.5];
const conF025 = [-0.35,-0.4,-0.45,-0.5,-0.52,-0.55,-0.55,-0.55,-0.53,-0.5,
  -0.48,-0.45,-0.42,-0.35,-0.25,-0.1,0.1,0.25,0.45,0.65,
  0.8,0.85,0.85,0.7,0.45,0.3,0.15,0.05,0.05,0.15,
  0.35,0.65,1.0,0.95,0.8,0.9,1.0,1.05,1.1,1.15,
  1.15,1.15,1.05,0.8,0.35,-0.2,-0.6,-0.8,-0.8,-0.7,
  -0.6,-0.5,-0.35,-0.1,0.2,0.5,0.85,1.05,0.95,0.5,
  0.0,-0.4,-0.55,-0.5,-0.4,-0.5,-0.75,-0.8,-0.8,-0.78,
  -0.7];
const conUp = [0.45,0.5,0.55,0.58,0.6,0.68,0.8,0.95,1.05,1.2,
  1.4,1.55,1.6,1.6,1.45,1.5,1.6,1.65,1.7,2.1,
  2.1,2.25,2.2,1.8,1.65,1.75,1.95,2.1,2.0,1.75,
  1.7,2.0,2.3,2.1,1.85,1.9,2.1,1.95,2.0,2.2,
  2.4,2.5,2.3,1.9,1.4,0.8,0.1,0.1,0.3,0.5,
  0.65,0.55,0.75,0.95,1.2,1.5,1.9,2.25,2.05,1.65,
  1.2,0.75,0.5,0.5,0.85,1.0,0.8,0.8,0.85,0.8,
  0.7];
const conLo = [-1.85,-2.0,-2.05,-2.1,-2.12,-2.05,-1.95,-1.85,-1.7,-1.4,
  -1.15,-1.0,-0.9,-0.85,-0.85,-0.8,-0.6,-0.55,-0.5,0.1,
  0.05,0.15,0.1,-0.35,-0.5,-0.35,-0.2,0.0,-0.1,-0.45,
  -0.5,-0.2,0.2,0.0,-0.25,-0.1,0.05,0.1,0.15,0.45,
  0.6,0.65,0.2,-0.3,-0.65,-1.35,-1.9,-1.85,-1.7,-1.5,
  -1.35,-1.55,-1.3,-1.1,-0.85,-0.6,-0.1,0.3,0.0,-0.35,
  -0.8,-1.3,-1.6,-1.5,-1.1,-1.05,-1.3,-1.25,-1.35,-1.55,
  -1.85];
const conF100 = [-1.0,-1.5,-1.3,-1.8,-2.6,-2.2,2.2,-2.0,1.5,-2.5,
  1.3,0.5,1.7,0.2,1.3,1.0,-2.2,1.5,-0.8,2.6,
  -0.2,2.2,0.0,1.9,-3.5,0.5,-0.3,1.7,-0.5,0.9,
  -0.1,-2.8,1.2,-0.3,-1.3,0.8,2.0,0.3,1.6,0.5,
  2.0,1.0,1.6,0.5,1.4,-0.5,-1.3,0.1,-1.0,0.1,
  -1.3,-3.5,-0.3,-2.9,0.3,-2.2,0.9,2.0,1.4,1.6,
  -0.1,0.5,-1.2,0.7,-2.9,1.3,-4.0,1.0,-0.9,1.2,
  -1.6];

// レイアウト
const YW = 50, PT = 14, PR = 26, XH = 30;
const TEAL = '#008080', RED = '#ff0000';
const FONT = { family: "'Liberation Serif', 'Times New Roman', serif", size: 20 };

// 線のスタイル: 平均, Factor 0.25, 上側バンド, 下側バンド, Factor 100
const STY = [
  { color: '#000', width: 1.3 },
  { color: RED, width: 1.6, dash: [9, 5] },
  { color: '#000', width: 2.2, dash: [2, 2.5] },
  { color: '#000', width: 2.2, dash: [2, 2.5] },
  { color: TEAL, width: 1.3, dash: [9, 5] }
];

const EF = 'E[<i>f</i><sup><i>';
const panels = [
  { box: [52, 41, 496, 215], yr: [-3.0, 3.43], yt: [-2.5, 0, 2.5], dec: 1,
    s: [glbMean, glbF025, glbUp, glbLo, glbF100], leg: [68, 187, 40], lab: EF + 'c</i></sup>|data]' },
  { box: [51, 277, 494, 449], yr: [-3.2, 2.3], yt: [-2, 0, 2], dec: 0,
    s: [usMean, usF025, usUp, usLo, usF100], leg: [68, 197, 261], lab: EF + 'd us</i></sup>|data]' },
  { box: [566, 271, 1016, 446], yr: [-3.73, 5.0], yt: [-2.5, 0, 2.5, 5.0], dec: 1,
    s: [ukMean, ukF025, ukUp, ukLo, ukF100], leg: [581, 713, 263], lab: EF + 'd uk</i></sup>|data]' },
  { box: [51, 493, 494, 669], yr: [-3.0, 4.0], yt: [-2.5, 0, 2.5], dec: 1,
    s: [eaMean, eaF025, eaUp, eaLo, eaF100], leg: [65, 194, 490], lab: EF + 'd ea</i></sup>|data]' },
  { box: [565, 497, 1016, 669], yr: [-4.15, 3.7], yt: [-2.5, 0, 2.5], dec: 1,
    s: [apMean, apF025, apUp, apLo, apF100], leg: [583, 715, 496], lab: EF + 'd ap</i></sup>|data]' },
  { box: [51, 808, 494, 964], yr: [-3.48, 3.48], yt: [-2.5, 0, 2.5], dec: 1,
    s: [finMean, finF025, finUp, finLo, finF100], leg: [68, 253, 782], lab: EF + 'i</i></sup>|data], financials' },
  { box: [559, 809, 1009, 963], yr: [-4.13, 3.44], yt: [-2.5, 0, 2.5], dec: 1,
    s: [trnMean, trnF025, trnUp, trnLo, trnF100], leg: [655, 898, 786], lab: EF + 'i</i></sup>|data], transport &amp; energy' },
  { box: [52, 1028, 496, 1178], yr: [-4.08, 3.5], yt: [-2.5, 0, 2.5], dec: 1,
    s: [indMean, indF025, indUp, indLo, indF100], leg: [67, 250, 1009], lab: EF + 'i</i></sup>|data], industrials' },
  { box: [559, 1024, 1009, 1186], yr: [-3.71, 3.47], yt: [-2.5, 0, 2.5], dec: 1,
    s: [tecMean, tecF025, tecUp, tecLo, tecF100], leg: [581, 775, 1011], lab: EF + 'i</i></sup>|data], technology' },
  { box: [52, 1257, 496, 1407], yr: [-3.6, 3.5], yt: [-2.5, 0, 2.5], dec: 1,
    s: [retMean, retF025, retUp, retLo, retF100], leg: [67, 313, 1246], lab: EF + 'i</i></sup>|data], retail &amp; distribution' },
  { box: [559, 1232, 1009, 1397], yr: [-3.8, 3.46], yt: [-2.5, 0, 2.5], dec: 1,
    s: [conMean, conF025, conUp, conLo, conF100], leg: [572, 800, 1246], lab: EF + 'i</i></sup>|data], consumer goods' }
];

// 内向きの目盛り
const innerTicks = {
  id: 'innerTicks',
  afterDraw(chart) {
    const { ctx, chartArea: a, scales: { x, y } } = chart;
    ctx.save();
    ctx.strokeStyle = '#000';
    ctx.lineWidth = 1;
    ctx.beginPath();
    YEARS.forEach(v => {
      const px = Math.round(x.getPixelForValue(v)) + 0.5;
      ctx.moveTo(px, a.bottom);
      ctx.lineTo(px, a.bottom - 7);
    });
    y.ticks.forEach(t => {
      const py = Math.round(y.getPixelForValue(t.value)) + 0.5;
      ctx.moveTo(a.left, py);
      ctx.lineTo(a.left + 7, py);
    });
    ctx.stroke();
    ctx.restore();
  }
};

const page = document.getElementById('page');
const fmt = (v, dec) => Number(v).toFixed(dec).replace('-', '\u2212');

function swatch(x, y, st) {
  const ns = 'http://www.w3.org/2000/svg';
  const svg = document.createElementNS(ns, 'svg');
  svg.setAttribute('width', 33);
  svg.setAttribute('height', 6);
  svg.style.position = 'absolute';
  svg.style.left = x + 'px';
  svg.style.top = (y - 3) + 'px';
  const ln = document.createElementNS(ns, 'line');
  ln.setAttribute('x1', 0); ln.setAttribute('y1', 3);
  ln.setAttribute('x2', 33); ln.setAttribute('y2', 3);
  ln.setAttribute('stroke', st.color);
  ln.setAttribute('stroke-width', st.width);
  if (st.dash) ln.setAttribute('stroke-dasharray', st.dash.join(' '));
  svg.appendChild(ln);
  page.appendChild(svg);
}

function legText(x, y, html) {
  const d = document.createElement('div');
  d.className = 'leg';
  d.style.left = x + 'px';
  d.style.top = (y - 9) + 'px';
  d.innerHTML = html;
  page.appendChild(d);
}

panels.forEach(p => {
  const [l, t, r, b] = p.box;
  const cv = document.createElement('canvas');
  cv.width = (r - l) + YW + PR;
  cv.height = (b - t) + PT + XH;
  cv.style.left = (l - YW) + 'px';
  cv.style.top = (t - PT) + 'px';
  page.appendChild(cv);

  const pts = arr => HALF.map((x, i) => ({ x: x, y: arr[i] }));
  const ds = p.s.map((arr, i) => ({
    data: pts(arr),
    borderColor: STY[i].color,
    borderWidth: STY[i].width,
    borderDash: STY[i].dash || [],
    pointRadius: 0,
    tension: 0,
    fill: false
  }));
  // ゼロの基準線
  ds.push({
    data: [{ x: HALF[0], y: 0 }, { x: HALF[HALF.length - 1], y: 0 }],
    borderColor: '#999', borderWidth: 1, pointRadius: 0, fill: false
  });

  new Chart(cv, {
    type: 'line',
    data: { datasets: ds },
    options: {
      responsive: false,
      animation: false,
      layout: { padding: { top: PT, right: PR, left: 0, bottom: 0 } },
      plugins: { legend: { display: false }, tooltip: { enabled: false } },
      scales: {
        x: {
          type: 'linear', min: 1980, max: 2015,
          grid: { display: false, drawTicks: false },
          border: { display: true, color: '#000', width: 1 },
          ticks: { font: FONT, color: '#000', padding: 2, maxRotation: 0, autoSkip: false, callback: v => String(v) },
          afterBuildTicks: s => { s.ticks = X_TICKS.map(v => ({ value: v })); },
          afterFit: s => { s.height = XH; }
        },
        y: {
          type: 'linear', min: p.yr[0], max: p.yr[1],
          grid: { display: false, drawTicks: false },
          border: { display: true, color: '#000', width: 1 },
          ticks: { font: FONT, color: '#000', padding: 5, callback: v => fmt(v, p.dec) },
          afterBuildTicks: s => { s.ticks = p.yt.map(v => ({ value: v })); },
          afterFit: s => { s.width = YW; }
        }
      }
    },
    plugins: [innerTicks]
  });

  // 凡例
  const [x1, x2, y1] = p.leg;
  const y2 = y1 + 17;
  swatch(x1, y1, STY[0]); legText(x1 + 38, y1, p.lab);
  swatch(x2, y1, STY[2]); legText(x2 + 38, y1, '95% error band');
  swatch(x1, y2, STY[4]); legText(x1 + 38, y2, 'Factor 100');
  swatch(x2, y2, STY[1]); legText(x2 + 38, y2, 'Factor 0.25');
});
</script>
</body>
</html>
